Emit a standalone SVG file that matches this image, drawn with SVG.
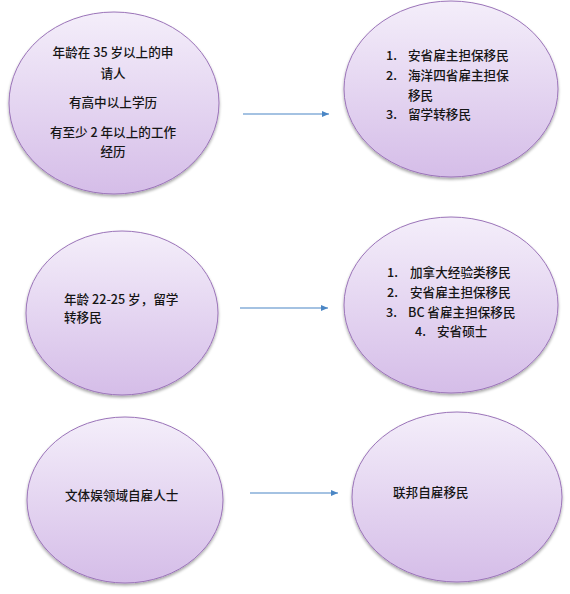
<svg xmlns="http://www.w3.org/2000/svg" width="570" height="594" viewBox="0 0 570 594">
<defs>
<linearGradient id="g" x1="0" y1="0" x2="0" y2="1">
<stop offset="0" stop-color="#f4eefa"/>
<stop offset="1" stop-color="#d5bde8"/>
</linearGradient>
<filter id="sh" x="-10%" y="-10%" width="120%" height="125%">
<feGaussianBlur in="SourceAlpha" stdDeviation="1.5"/>
<feOffset dy="2" result="b"/>
<feComponentTransfer><feFuncA type="linear" slope="0.35"/></feComponentTransfer>
<feMerge><feMergeNode/><feMergeNode in="SourceGraphic"/></feMerge>
</filter>
<marker id="ah" markerWidth="8" markerHeight="8" refX="7" refY="4" orient="auto" markerUnits="userSpaceOnUse">
<path d="M0,1 L7,4 L0,7 Z" fill="#4a86c5"/>
</marker>
</defs>
<style>
.n{fill:url(#g);stroke:#9b74b9;stroke-width:1;filter:url(#sh)}
.t{font-family:"Noto Sans CJK SC","Liberation Sans",sans-serif;font-size:12.6px;font-weight:500;fill:#151515}
.c{text-anchor:middle}
.e line{stroke:#4a86c5;stroke-width:1.2;marker-end:url(#ah)}
</style>
<rect width="570" height="594" fill="#fff"/>
<g id="n1">
<ellipse class="n" cx="114" cy="103" rx="105" ry="91"/>
<text class="t c" x="113" y="57">年龄在 35 岁以上的申</text>
<text class="t c" x="113" y="78">请人</text>
<text class="t c" x="113" y="107">有高中以上学历</text>
<text class="t c" x="113" y="137">有至少 2 年以上的工作</text>
<text class="t c" x="113" y="156">经历</text>
</g>
<g id="n2">
<ellipse class="n" cx="451" cy="89" rx="107" ry="88"/>
<text class="t" x="386" y="60">1.</text><text class="t" x="408" y="60">安省雇主担保移民</text>
<text class="t" x="386" y="80">2.</text><text class="t" x="408" y="80">海洋四省雇主担保</text>
<text class="t" x="408" y="100">移民</text>
<text class="t" x="386" y="119">3.</text><text class="t" x="408" y="119">留学转移民</text>
</g>
<g id="n3">
<ellipse class="n" cx="122" cy="313" rx="96" ry="82"/>
<text class="t" x="64" y="304">年龄 22-25 岁，留学</text>
<text class="t" x="64" y="322">转移民</text>
</g>
<g id="n4">
<ellipse class="n" cx="451" cy="305" rx="107" ry="88"/>
<text class="t" x="387" y="277">1.</text><text class="t" x="410" y="277">加拿大经验类移民</text>
<text class="t" x="387" y="297">2.</text><text class="t" x="410" y="297">安省雇主担保移民</text>
<text class="t" x="386" y="317">3.</text><text class="t" x="408" y="317">BC 省雇主担保移民</text>
<text class="t" x="415" y="336">4.</text><text class="t" x="437" y="336">安省硕士</text>
</g>
<g id="n5">
<ellipse class="n" cx="125" cy="500" rx="98" ry="83"/>
<text class="t" x="65" y="500">文体娱领域自雇人士</text>
</g>
<g id="n6">
<ellipse class="n" cx="457" cy="497" rx="105" ry="85"/>
<text class="t" x="393" y="497">联邦自雇移民</text>
</g>
<g id="edges" class="e">
<line x1="243" y1="114" x2="329" y2="114"/>
<line x1="240" y1="308" x2="328" y2="308"/>
<line x1="250" y1="493" x2="338" y2="493"/>
</g>
</svg>
